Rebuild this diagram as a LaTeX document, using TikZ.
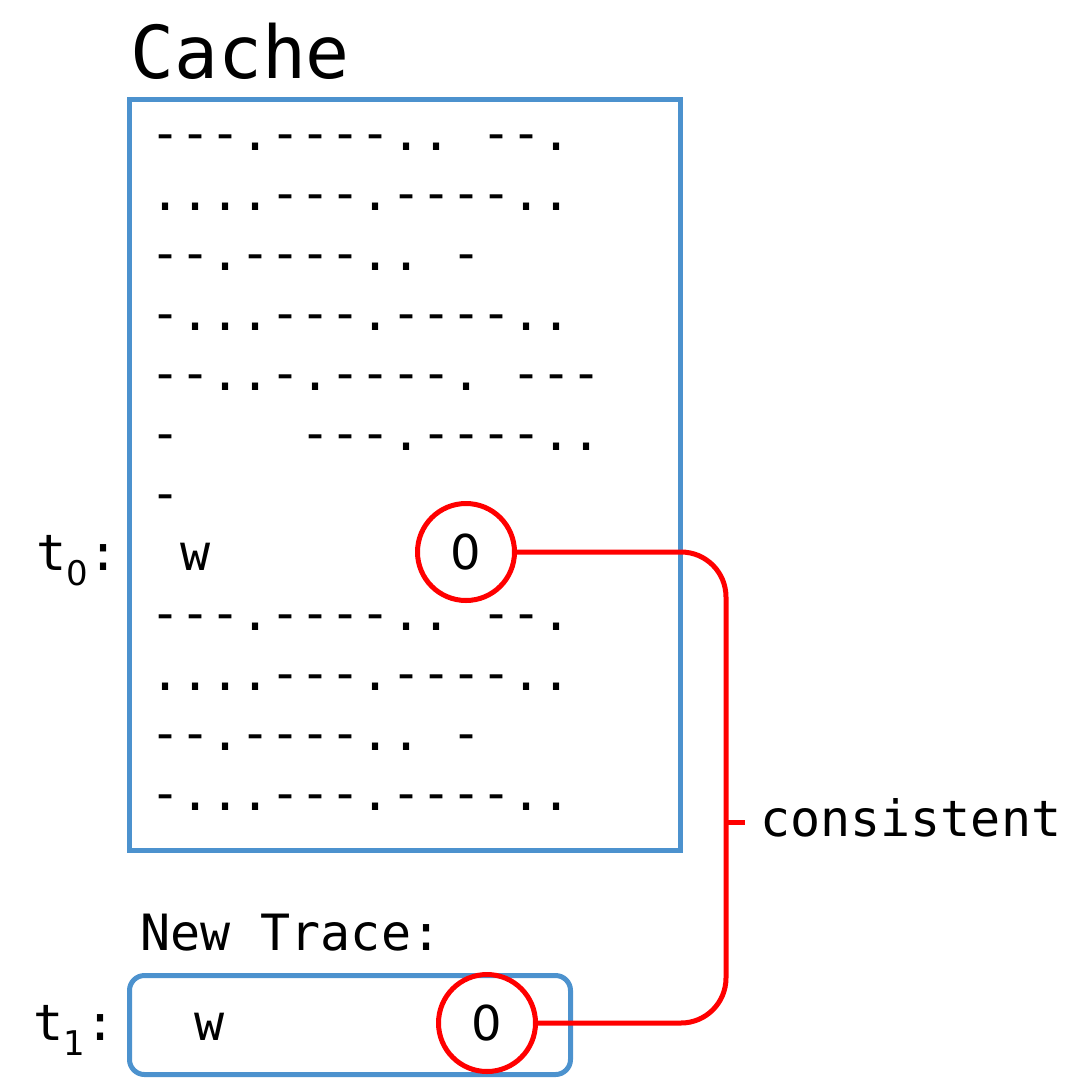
\documentclass[tikz,border=0pt]{standalone}
\usepackage{fontspec}
\setmonofont{DejaVu Sans Mono}
\newfontfamily\plainzero{DejaVu Sans}
\definecolor{boxblue}{RGB}{76,146,206}
\definecolor{linkred}{RGB}{255,0,0}
\begin{document}
\begin{tikzpicture}[x=1pt,y=-1pt,
  mono/.style={font=\fontsize{50}{60}\selectfont\ttfamily, inner sep=0pt},
  row/.style={mono, anchor=base west},
  frame/.style={draw=boxblue, line width=5pt, inner sep=0pt, anchor=north west},
  mark0/.style={font=\fontsize{48}{60}\selectfont\plainzero, inner sep=0pt, circle, draw=linkred, line width=5pt, minimum size=97pt},
  link/.style={draw=linkred, line width=5pt}]
\useasboundingbox (0,0) rectangle (1085,1080);

% titles
\node[mono, anchor=base west, font=\fontsize{73}{80}\selectfont\ttfamily] (title) at (130,78) {Cache};
\node[row] (newtrace) at (140,950) {New Trace:};

% cache box
\node[frame, minimum width=551pt, minimum height=751pt] (cache) at (127,97) {};

% cache rows
\node[row] (r1) at (150,150) {---.----..~--.};
\node[row] (r2) at (150,210) {....---.----..};
\node[row] (r3) at (150,270) {--.----..~-};
\node[row] (r4) at (150,330) {-...---.----..};
\node[row] (r5) at (150,390) {--..-.----.~---};
\node[row] (r6) at (150,450) {-~~~~---.----..};
\node[row] (r7) at (150,510) {-};
\node[row] (r8) at (150,570) {~w};
\node[row] (r9) at (150,630) {---.----..~--.};
\node[row] (r10) at (150,690) {....---.----..};
\node[row] (r11) at (150,750) {--.----..~-};
\node[row] (r12) at (150,810) {-...---.----..};

% t0 label
\node[row] (t0) at (36,570) {t\raisebox{-15pt}{\fontsize{34}{40}\selectfont\plainzero 0}\hspace{1pt}:};
\node[mark0] (c0) at (466,552) {0};

% new trace box
\node[frame, minimum width=441pt, minimum height=99pt, rounded corners=15pt] (trace) at (127,973) {};
\node[row] (t1) at (33,1040) {t\raisebox{-15pt}{\fontsize{34}{40}\selectfont\plainzero 1}\hspace{1pt}:};
\node[mono, anchor=base] (w1) at (210,1040) {w};
\node[mark0] (c1) at (487,1023) {0};

% connector
\coordinate (jx) at (726,822);
\draw[link, rounded corners=45pt] (c0.east) -| (jx) |- (c1.east);
\draw[link] (jx) -- ++(19,0) coordinate (tick);
\node[row] (cons) at (760,836) {consistent};
\end{tikzpicture}
\end{document}
